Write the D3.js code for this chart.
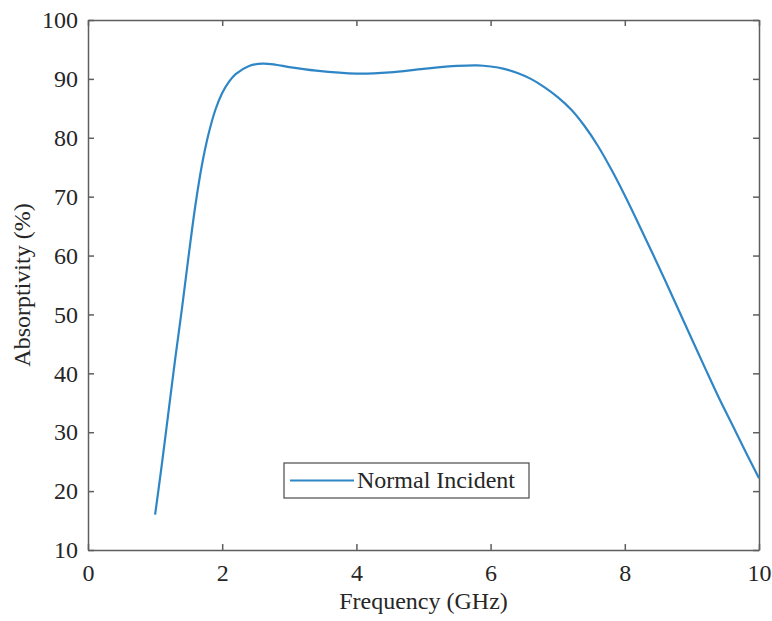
<!DOCTYPE html>
<html lang="en">
<head>
    <meta charset="utf-8">
    <title>Absorptivity vs Frequency</title>
    <style>
        body {
            margin: 0;
            background: #fff;
        }
        svg text {
            font-family: "Liberation Serif", "Times New Roman", serif;
            fill: #262626;
        }
    </style>
</head>
<body>
    <div id="chart"></div>
    <script src="https://d3js.org/d3.v7.min.js"></script>
    <script>
        // Frequency (GHz) and absorptivity (%)
        const freq = [1.0, 1.1, 1.2, 1.3, 1.4, 1.5, 1.6, 1.7, 1.8, 1.9, 2.0, 2.1, 2.2, 2.4, 2.6, 2.8, 3.0, 3.4, 4.0, 4.5, 5.0, 5.5, 5.8, 6.0, 6.2, 6.4, 6.6, 6.8, 7.0, 7.2, 7.4, 7.6, 7.8, 8.0, 8.2, 8.4, 8.6, 8.8, 9.0, 9.2, 9.4, 9.6, 9.8, 10.0];
        const absorb = [16, 24.5, 33.5, 42.5, 51, 60, 68.5, 75.5, 80.8, 84.8, 87.6, 89.5, 90.8, 92.2, 92.6, 92.4, 92.0, 91.4, 90.9, 91.1, 91.7, 92.2, 92.3, 92.1, 91.7, 91.0, 90.0, 88.6, 86.9, 84.8, 82.0, 78.6, 74.6, 70.2, 65.5, 60.7, 55.8, 50.8, 45.8, 40.8, 35.9, 31.3, 26.7, 22.2];
        const xTicks = [0, 2, 4, 6, 8, 10];
        const yTicks = [10, 20, 30, 40, 50, 60, 70, 80, 90, 100];
        const seriesName = "Normal Incident";

        const width = 772, height = 621;
        const margin = {top: 20, right: 13, bottom: 71, left: 88};

        const svg = d3.select("#chart")
            .append("svg")
            .attr("width", width)
            .attr("height", height);

        const x = d3.scaleLinear().domain([0, 10]).range([margin.left, width - margin.right]);
        const y = d3.scaleLinear().domain([10, 100]).range([height - margin.bottom, margin.top]);

        const axisColor = "#5e5e5e";

        // axes with inward ticks, MATLAB style box
        const styleAxis = g => {
            g.select(".domain").attr("stroke", axisColor).attr("stroke-width", 1.5);
            g.selectAll(".tick line").attr("stroke", axisColor).attr("stroke-width", 1.5);
            g.selectAll("text").style("font-size", "24px");
        };

        svg.append("g")
            .attr("transform", `translate(0,${y(10)})`)
            .call(d3.axisBottom(x).tickValues(xTicks).tickSizeInner(-6).tickSizeOuter(0).tickPadding(14))
            .call(styleAxis);

        svg.append("g")
            .attr("transform", `translate(${x(0)},0)`)
            .call(d3.axisLeft(y).tickValues(yTicks).tickSizeInner(-6).tickSizeOuter(0).tickPadding(10))
            .call(styleAxis);

        svg.append("g")
            .attr("transform", `translate(0,${y(100)})`)
            .call(d3.axisTop(x).tickValues(xTicks).tickSizeInner(-6).tickSizeOuter(0).tickFormat(""))
            .call(styleAxis);

        svg.append("g")
            .attr("transform", `translate(${x(10)},0)`)
            .call(d3.axisRight(y).tickValues(yTicks).tickSizeInner(-6).tickSizeOuter(0).tickFormat(""))
            .call(styleAxis);

        // the curve
        const line = d3.line()
            .x((d, i) => x(freq[i]))
            .y(d => y(d))
            .curve(d3.curveCatmullRom.alpha(0.5));

        svg.append("path")
            .datum(absorb)
            .attr("fill", "none")
            .attr("stroke", "#2f86c6")
            .attr("stroke-width", 2.2)
            .attr("d", line);

        // axis labels
        svg.append("text")
            .attr("x", (x(0) + x(10)) / 2)
            .attr("y", 609)
            .attr("text-anchor", "middle")
            .style("font-size", "24px")
            .text("Frequency (GHz)");

        svg.append("text")
            .attr("transform", `translate(30,${(y(10) + y(100)) / 2}) rotate(-90)`)
            .attr("text-anchor", "middle")
            .style("font-size", "24px")
            .text("Absorptivity (%)");

        // legend
        const legend = svg.append("g").attr("transform", "translate(284,463)");
        legend.append("rect")
            .attr("width", 245)
            .attr("height", 35)
            .attr("fill", "#fff")
            .attr("stroke", "#4a4a4a")
            .attr("stroke-width", 1.2);
        legend.append("line")
            .attr("x1", 6).attr("x2", 70)
            .attr("y1", 17.5).attr("y2", 17.5)
            .attr("stroke", "#2f86c6")
            .attr("stroke-width", 2.2);
        legend.append("text")
            .attr("x", 73)
            .attr("y", 25)
            .style("font-size", "24px")
            .text(seriesName);
    </script>
</body>
</html>
